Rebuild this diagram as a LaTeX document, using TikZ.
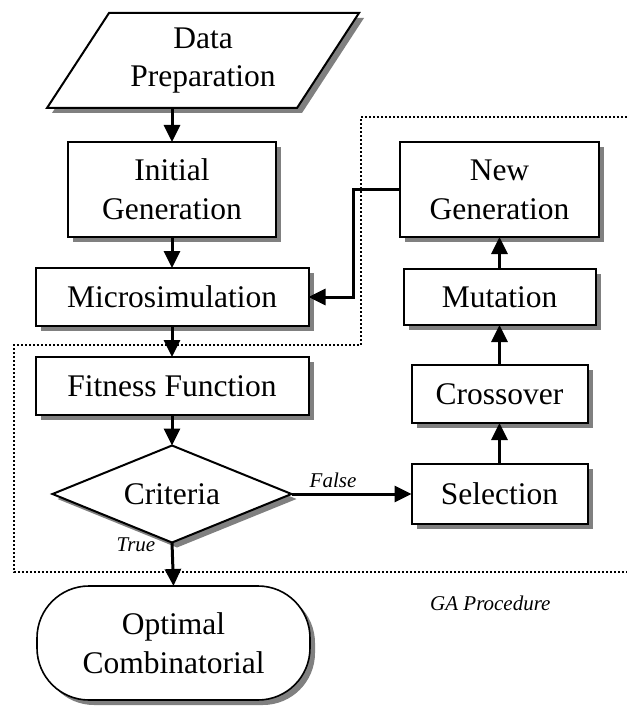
\documentclass[tikz,border=0pt]{standalone}
\usepackage{fontspec}
\setmainfont{Liberation Serif}
\usetikzlibrary{shapes.geometric,shadows,arrows.meta}

\begin{document}
\begin{tikzpicture}[x=1pt,y=-1pt,
  shadowed/.style={drop shadow={shadow xshift=5pt, shadow yshift=-5pt, fill=black!50, opacity=1}},
  box/.style={draw, line width=2pt, fill=white, inner sep=0pt, outer sep=0pt,
    align=center, font=\fontsize{31.5}{39}\selectfont, shadowed},
  flow/.style={line width=3pt, -{Triangle[length=17pt,width=16pt]}},
  lbl/.style={inner sep=0pt, font=\itshape\fontsize{21}{24}\selectfont},
  region/.style={line width=2pt, dotted}
]
\useasboundingbox (0,0) rectangle (629,711);

% dotted outline of the GA loop
\draw[region] (627,117) -- (361,117) -- (361,345) -- (14,345) -- (14,572) -- (627,572);

% input parallelogram
\fill[black!50] (114,18) -- (364,18) -- (302,113) -- (52,113) -- cycle;
\draw[line width=2pt, fill=white] (109,13) -- (359,13) -- (297,108) -- (47,108) -- cycle;
\node[align=center, inner sep=0pt, font=\fontsize{31.5}{38}\selectfont] (prep) at (203,61) {Data\\Preparation};
\coordinate (prepout) at (172,108);

% main column
\node[box, minimum width=208pt, minimum height=95pt] (init) at (172,189.5) {Initial\\Generation};
\node[box, minimum width=273pt, minimum height=58pt] (micro) at (172,297) {Microsimulation};
\node[box, minimum width=273pt, minimum height=58pt] (fit) at (172,386) {Fitness Function};
\node[box, diamond, aspect=2.46, minimum width=239pt, minimum height=97pt] (crit) at (172,494) {Criteria};
\node[box, rectangle, rounded corners=52pt, line width=1.6pt, minimum width=273pt, minimum height=114pt] (opt) at (173.5,643) {Optimal\\Combinatorial};

% GA operators column
\node[box, minimum width=199pt, minimum height=95pt] (newgen) at (499.5,189.5) {New\\Generation};
\node[box, minimum width=192pt, minimum height=56pt] (mut) at (499.5,297) {Mutation};
\node[box, minimum width=176pt, minimum height=58pt] (cross) at (499.5,394) {Crossover};
\node[box, minimum width=176pt, minimum height=60pt] (sel) at (499.5,494) {Selection};

% connectors
\draw[flow] (prepout) -- (init.north);
\draw[flow] (init.south) -- (micro.north);
\draw[flow] (micro.south) -- (fit.north);
\draw[flow] (fit.south) -- (crit.north);
\draw[flow] (crit.south) -- (opt.north);
\draw[flow] (crit.east) -- (sel.west);
\draw[flow] (sel.north) -- (cross.south);
\draw[flow] (cross.north) -- (mut.south);
\draw[flow] (mut.north) -- (newgen.south);
\draw[flow] (newgen.west) -- ++(-47,0) |- (micro.east);

% labels
\node[lbl] (falselbl) at (333,480) {False};
\node[lbl] (truelbl) at (136,545) {True};
\node[lbl, anchor=base west] (galbl) at (430,610) {GA Procedure};
\end{tikzpicture}
\end{document}
